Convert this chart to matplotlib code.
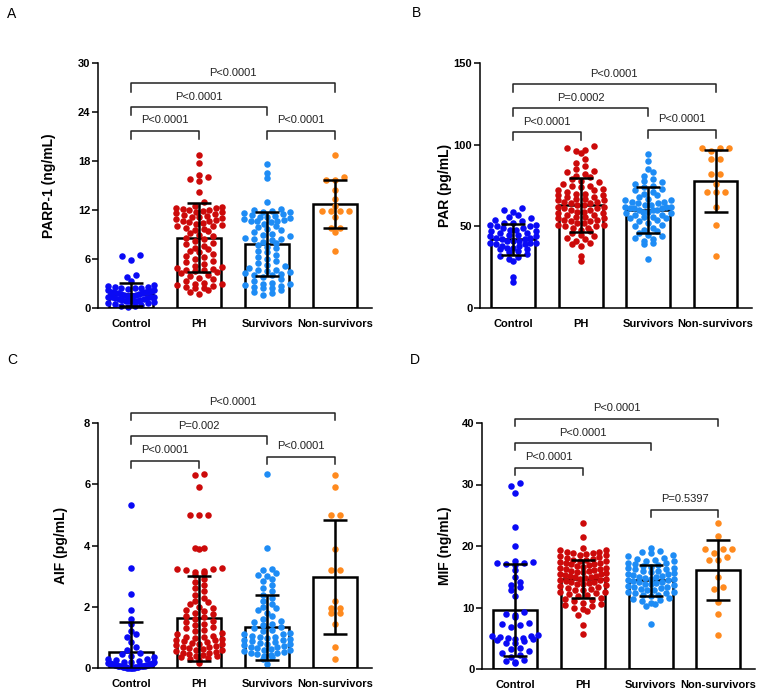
import numpy as np
import matplotlib
matplotlib.use("Agg")
import matplotlib.pyplot as plt

plt.rcParams["font.family"] = ["Liberation Sans", "DejaVu Sans"]

GROUPS = ["Control", "PH", "Survivors", "Non-survivors"]
COLORS = ["#0a0af5", "#cc0a0a", "#1e8cf5", "#ff8a1e"]

# ---- Panel A: PARP-1 (ng/mL)
ctrl_A = [6.5, 6.4, 5.9, 4.1, 3.8, 3.3, 2.8, 2.7, 2.6, 2.6, 2.5, 2.4, 2.4, 2.3, 2.2, 2.2,
          2.1, 2.0, 2.0, 1.9, 1.9, 1.8, 1.8, 1.7, 1.7, 1.6, 1.6, 1.5, 1.5, 1.5, 1.4, 1.4,
          1.3, 1.3, 1.2, 1.2, 1.1, 1.1, 1.0, 1.0, 0.9, 0.9, 0.8, 0.8, 0.7, 0.6, 0.6, 0.5,
          0.4, 0.3, 0.2, 0.1]
ph_A = [18.7, 17.7, 16.3, 16.1, 15.8, 15.6, 14.2, 13.0,
        12.5, 12.4, 12.3, 12.2, 12.1, 12.0, 12.0, 11.9, 11.8, 11.7, 11.6, 11.5, 11.4,
        11.3, 11.2, 11.1, 11.0, 10.9, 10.8, 10.7, 10.6, 10.5, 10.4, 10.3, 10.2, 10.1,
        10.0, 9.8, 9.7, 9.6, 9.4, 9.2, 9.0, 8.8, 8.6, 8.4, 8.2, 8.0, 7.8, 7.6, 7.4, 7.2,
        7.0, 6.8, 6.6, 6.4, 6.2, 6.0, 5.8, 5.6, 5.4, 5.2, 5.0, 4.9, 4.8, 4.7, 4.6, 4.5,
        4.4, 4.3, 4.1, 3.9, 3.7, 3.5, 3.3, 3.1, 3.0, 2.9, 2.8, 2.7, 2.6, 2.5, 2.4, 2.2,
        2.0, 1.7]
surv_A = [17.6, 16.5, 15.9, 13.0, 12.1, 12.0, 11.9, 11.8, 11.7, 11.6, 11.5, 11.4, 11.3,
          11.2, 11.1, 11.0, 10.9, 10.8, 10.7, 10.6, 10.6, 10.5, 10.3, 10.1, 9.9, 9.7,
          9.5, 9.3, 9.1, 8.9, 8.8, 8.6, 8.5, 8.4, 8.3, 8.1, 7.9, 7.7, 7.5, 7.3, 7.0, 6.8,
          6.5, 6.3, 6.0, 5.8, 5.5, 5.3, 5.1, 4.9, 4.7, 4.6, 4.5, 4.4, 4.3, 4.2, 4.1, 4.0,
          3.8, 3.5, 3.3, 3.1, 3.0, 2.9, 2.8, 2.7, 2.6, 2.5, 2.4, 2.2, 2.0, 1.8, 1.6]
ns_A = [18.7, 16.1, 15.7, 15.7, 14.4, 13.3, 12.5, 11.9, 11.9, 11.9, 11.9, 11.2, 9.8, 9.8,
        9.3, 7.0]
mean_A = [1.7, 8.6, 7.8, 12.7]
sd_A = [1.4, 4.2, 3.9, 2.95]

# ---- Panel B: PAR (pg/mL)
ctrl_B = [61, 60, 59, 57, 56, 55, 54, 53, 52, 52, 51, 51, 50, 50, 49, 49, 48, 48, 47, 47,
          46, 46, 45, 45, 44, 44, 43, 43, 42, 42, 41, 41, 41, 40, 40, 40, 39, 39, 38, 38,
          37, 37, 36, 36, 35, 34, 33, 32, 31, 30, 29, 19, 16]
ph_B = [99, 98, 97, 96, 95, 91, 89, 87, 85, 84, 83, 82, 81, 80, 79, 78, 77, 76, 75, 75,
        74, 73, 72, 72, 71, 70, 70, 69, 69, 68, 68, 67, 67, 66, 66, 65, 65, 64, 64, 63,
        63, 62, 62, 61, 61, 60, 60, 59, 59, 58, 58, 57, 57, 56, 56, 55, 55, 54, 54, 53,
        53, 52, 52, 51, 51, 50, 50, 49, 49, 48, 47, 46, 45, 44, 43, 42, 41, 40, 39, 38,
        32, 29]
surv_B = [94, 90, 85, 83, 81, 79, 78, 77, 76, 75, 74, 73, 72, 71, 70, 69, 68, 67, 66, 66,
          65, 65, 64, 64, 63, 63, 62, 62, 62, 61, 61, 61, 60, 60, 60, 59, 59, 58, 58, 57,
          57, 56, 56, 55, 55, 54, 53, 52, 51, 50, 49, 48, 47, 46, 45, 44, 43, 42, 41, 40,
          39, 30]
ns_B = [98, 98, 98, 96, 91, 91, 82, 82, 76, 71, 71, 71, 62, 51, 32]
mean_B = [42, 63, 60, 78]
sd_B = [9.5, 16.5, 14, 19]

# ---- Panel C: AIF (pg/mL)
ctrl_C = [5.32, 3.27, 2.41, 1.89, 1.61, 1.45, 1.2, 1.1, 1.0, 0.85, 0.7, 0.6, 0.5, 0.45,
          0.4, 0.35, 0.3, 0.28, 0.25, 0.22, 0.2, 0.2, 0.18, 0.17, 0.15, 0.15, 0.14, 0.13,
          0.12, 0.12, 0.11, 0.1, 0.1, 0.09, 0.08, 0.08, 0.07, 0.06, 0.06, 0.05, 0.05,
          0.04, 0.04, 0.03, 0.03, 0.02, 0.02, 0.01, 0.01, 0.0, 0.0, 0.0]
ph_C = [6.33, 6.3, 5.92, 5.0, 5.0, 4.98, 3.93, 3.92, 3.9, 3.25, 3.24, 3.22, 3.2, 3.18,
        3.15, 3.1, 3.05, 2.9, 2.8, 2.7, 2.6, 2.5, 2.4, 2.3, 2.2, 2.15, 2.1, 2.0, 1.95, 1.9,
        1.85, 1.8, 1.75, 1.7, 1.65, 1.6, 1.55, 1.5, 1.45, 1.4, 1.35, 1.3, 1.25, 1.2, 1.15,
        1.1, 1.05, 1.0, 1.0, 0.98, 0.95, 0.92, 0.9, 0.88, 0.85, 0.82, 0.8, 0.78, 0.75,
        0.72, 0.7, 0.68, 0.65, 0.62, 0.6, 0.58, 0.55, 0.52, 0.5, 0.48, 0.45, 0.42, 0.4,
        0.38, 0.35, 0.32, 0.3, 0.25, 0.15]
surv_C = [6.34, 3.92, 3.22, 3.2, 3.1, 3.05, 3.0, 2.9, 2.85, 2.7, 2.6, 2.5, 2.4, 2.3, 2.2,
          2.1, 2.0, 1.95, 1.9, 1.8, 1.7, 1.6, 1.55, 1.5, 1.45, 1.4, 1.35, 1.3, 1.25, 1.2,
          1.15, 1.1, 1.1, 1.05, 1.0, 1.0, 0.98, 0.95, 0.92, 0.9, 0.88, 0.85, 0.82, 0.8,
          0.78, 0.75, 0.72, 0.7, 0.68, 0.65, 0.62, 0.6, 0.58, 0.55, 0.52, 0.5, 0.48, 0.45,
          0.42, 0.4, 0.35, 0.3, 0.14]
ns_C = [6.3, 5.9, 5.0, 5.0, 3.9, 3.2, 3.2, 2.19, 1.97, 1.97, 1.81, 1.81, 1.45, 0.69, 0.30]
mean_C = [0.52, 1.62, 1.33, 2.97]
sd_C = [0.98, 1.38, 1.07, 1.87]

# ---- Panel D: MIF (ng/mL)
ctrl_D = [30.2, 29.8, 28.6, 23.1, 20.0, 17.6, 17.4, 17.3, 17.2, 17.0, 16.9, 16.1, 15.0,
          14.2, 13.7, 13.3, 12.8, 11.8, 9.3, 9.0, 8.8, 8.5, 7.5, 7.3, 7.1, 6.9, 5.5, 5.4,
          5.3, 5.2, 5.1, 5.0, 4.9, 4.8, 4.7, 4.5, 4.3, 4.2, 3.4, 3.2, 2.9, 2.6, 2.3, 2.0,
          1.5, 1.3, 1.1, 0.9]
ph_D = [23.7, 21.5, 19.6, 19.4, 19.3, 19.1, 19.0, 18.9, 18.8, 18.7, 18.6, 18.5, 18.4,
        18.2, 18.0, 17.9, 17.8, 17.7, 17.6, 17.5, 17.4, 17.3, 17.2, 17.1, 17.0, 16.9,
        16.8, 16.6, 16.5, 16.4, 16.3, 16.2, 16.1, 16.0, 15.9, 15.8, 15.7, 15.6, 15.5,
        15.4, 15.3, 15.2, 15.1, 15.0, 14.9, 14.8, 14.7, 14.6, 14.5, 14.4, 14.3, 14.2,
        14.1, 14.0, 13.9, 13.8, 13.6, 13.5, 13.4, 13.2, 13.0, 12.9, 12.8, 12.6, 12.5,
        12.3, 12.2, 12.0, 11.8, 11.6, 11.4, 11.2, 11.0, 10.8, 10.6, 10.4, 10.2, 10.0,
        9.8, 9.5, 8.8, 7.2, 5.7]
surv_D = [19.6, 19.2, 19.0, 18.8, 18.5, 18.3, 18.1, 17.9, 17.8, 17.6, 17.5, 17.3, 17.2,
          17.0, 16.9, 16.8, 16.6, 16.5, 16.4, 16.3, 16.2, 16.0, 15.9, 15.8, 15.6, 15.5,
          15.4, 15.3, 15.2, 15.0, 14.9, 14.8, 14.7, 14.6, 14.5, 14.4, 14.3, 14.2, 14.1,
          14.0, 13.9, 13.8, 13.6, 13.5, 13.4, 13.3, 13.2, 13.0, 12.9, 12.8, 12.6, 12.5,
          12.4, 12.3, 12.1, 12.0, 11.8, 11.6, 11.4, 11.2, 11.0, 10.8, 10.5, 10.2, 7.3]
ns_D = [23.7, 21.7, 19.5, 19.5, 19.5, 18.8, 18.2, 17.7, 17.7, 15.0, 13.3, 13.0, 10.9,
        8.9, 5.6]
mean_D = [9.6, 14.7, 14.4, 16.1]
sd_D = [7.45, 3.1, 2.55, 4.95]

# brackets: (group i, group j, bar height, text)
brk_A = [(0, 1, 21.7, "P<0.0001"), (0, 2, 24.6, "P<0.0001"),
         (0, 3, 27.5, "P<0.0001"), (2, 3, 21.7, "P<0.0001")]
brk_B = [(0, 1, 107.5, "P<0.0001"), (0, 2, 122.3, "P=0.0002"),
         (0, 3, 137.0, "P<0.0001"), (2, 3, 109.0, "P<0.0001")]
brk_C = [(0, 1, 6.77, "P<0.0001"), (0, 2, 7.56, "P=0.002"),
         (0, 3, 8.34, "P<0.0001"), (2, 3, 6.90, "P<0.0001")]
brk_D = [(0, 1, 32.7, "P<0.0001"), (0, 2, 36.7, "P<0.0001"),
         (0, 3, 40.65, "P<0.0001"), (2, 3, 25.85, "P=0.5397")]


def swarm(ax, xc, vals, row=6.0, d=9.0, maxw=46.0):
    """GraphPad-style scatter: bin points into rows (pixels), spread each row sideways."""
    vals = np.asarray(vals, float)
    pts = ax.transData.transform(np.column_stack([np.full(len(vals), xc), vals]))
    x0 = pts[0, 0]
    ys = pts[:, 1]
    base = ax.transData.transform((xc, 0))[1]
    bins = np.floor((ys - base) / row).astype(int)
    out = np.full(len(vals), x0)
    for b in np.unique(bins):
        idx = np.where(bins == b)[0]
        idx = idx[np.argsort(vals[idx], kind="stable")]
        n = len(idx)
        if n == 1:
            continue
        sp = min(d, maxw / (n - 1))
        offs = (np.arange(n) - (n - 1) / 2) * sp
        offs = offs[np.argsort(np.abs(offs), kind="stable")]
        out[idx] = x0 + offs
    return ax.transData.inverted().transform(np.column_stack([out, ys]))[:, 0]


def draw_panel(ax, data, means, sds, ymax, yticks, ylabel, label_x, brackets, leg):
    x = np.arange(len(GROUPS))
    ax.set_xlim(-0.49, 3.54)
    ax.set_ylim(0, ymax)
    ax.bar(x, means, width=0.65, color="white", edgecolor="black", linewidth=1.8, zorder=1)
    for i, vals in enumerate(data):
        xs = swarm(ax, i, vals)
        ax.scatter(xs, vals, s=22, color=COLORS[i], linewidths=0, zorder=2, clip_on=False)
    ax.errorbar(x, means, yerr=sds, fmt="none", ecolor="black", elinewidth=1.8,
                capsize=8.5, capthick=1.8, zorder=3)
    for i, j, y, txt in brackets:
        ax.plot([i, i, j, j], [y - leg, y, y, y - leg], color="#222222", lw=1.1,
                clip_on=False, zorder=4)
        ax.annotate(txt, xy=((i + j) / 2, y), xytext=(0, 4), textcoords="offset points",
                    ha="center", va="bottom", fontsize=8, color="#222222",
                    annotation_clip=False)
    ax.set_xticks(x)
    ax.set_xticklabels(GROUPS, fontweight="bold", fontsize=8)
    ax.set_yticks(yticks)
    ax.set_yticklabels([str(t) for t in yticks], fontweight="bold", fontsize=8)
    ax.tick_params(axis="x", length=0, pad=8)
    ax.tick_params(axis="y", length=4, width=1.1, pad=1.5)
    ax.set_ylabel(ylabel, fontweight="bold", fontsize=10)
    ax.yaxis.set_label_coords(label_x, 0.5)
    ax.spines[["top", "right"]].set_visible(False)
    for s in ("left", "bottom"):
        ax.spines[s].set_linewidth(1.1)


fig = plt.figure(figsize=(7.64, 6.95), dpi=100)
W, H = 764, 695
axA = fig.add_axes([98 / W, 1 - 308 / H, 274 / W, 245 / H])
axB = fig.add_axes([480 / W, 1 - 308 / H, 272 / W, 245 / H])
axC = fig.add_axes([98 / W, 1 - 668 / H, 274 / W, 245 / H])
axD = fig.add_axes([482 / W, 1 - 669 / H, 273 / W, 246 / H])

draw_panel(axA, [ctrl_A, ph_A, surv_A, ns_A], mean_A, sd_A, 30, [0, 6, 12, 18, 24, 30],
           "PARP-1 (ng/mL)", -0.153, brk_A, 1.0)
draw_panel(axB, [ctrl_B, ph_B, surv_B, ns_B], mean_B, sd_B, 150, [0, 50, 100, 150],
           "PAR (pg/mL)", -0.103, brk_B, 4.9)
draw_panel(axC, [ctrl_C, ph_C, surv_C, ns_C], mean_C, sd_C, 8, [0, 2, 4, 6, 8],
           "AIF (pg/mL)", -0.109, brk_C, 0.23)
draw_panel(axD, [ctrl_D, ph_D, surv_D, ns_D], mean_D, sd_D, 40, [0, 10, 20, 30, 40],
           "MIF (ng/mL)", -0.11, brk_D, 1.15)

for letter, (px, py) in zip("ABCD", [(12, 14), (417, 13), (12, 360), (415, 360)]):
    fig.text(px / W, 1 - py / H, letter, fontsize=10, ha="center", va="center")

fig.savefig("out.png", dpi=100)
